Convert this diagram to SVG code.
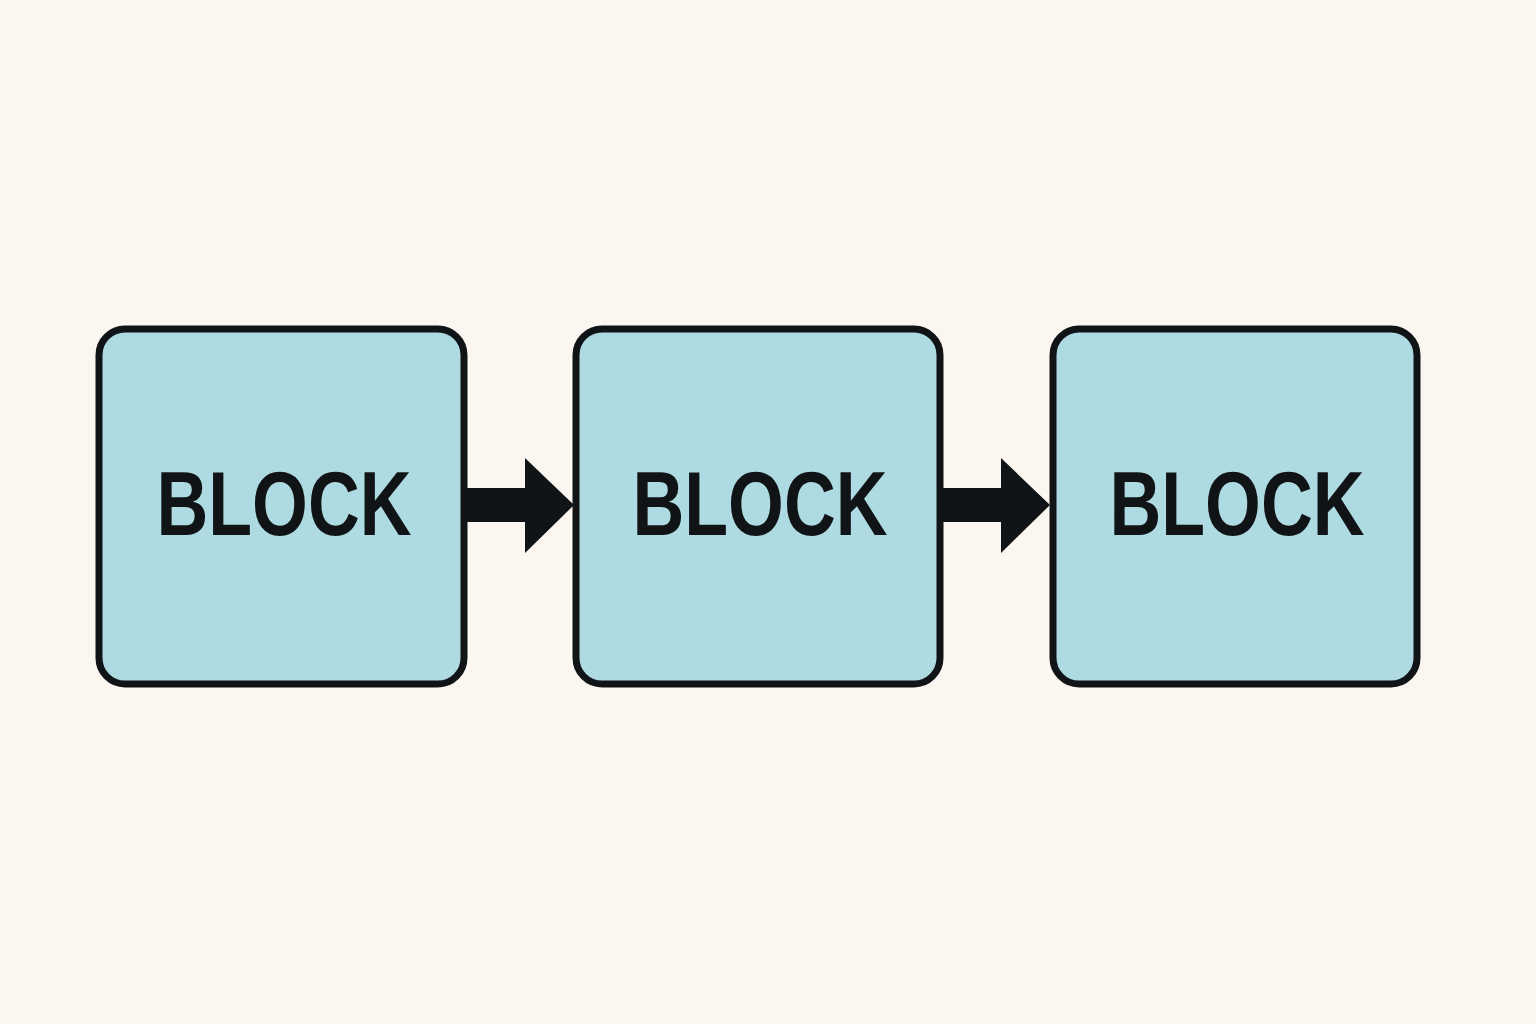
<svg xmlns="http://www.w3.org/2000/svg" width="1536" height="1024" viewBox="0 0 1536 1024">
<style>
.box{fill:#aedbe2;stroke:#111417;stroke-width:7}
.lbl{font-family:"Liberation Sans",Arial,sans-serif;font-weight:bold;font-size:90px;fill:#111417;text-anchor:middle}
.arr{fill:#111417}
</style>
<rect width="1536" height="1024" fill="#fcf6f0"/>
<g id="block1"><rect class="box" x="99" y="329" width="365" height="355" rx="26"/><text class="lbl" x="284" y="535" textLength="255" lengthAdjust="spacingAndGlyphs">BLOCK</text></g>
<g id="block2"><rect class="box" x="576" y="329" width="364" height="355" rx="26"/><text class="lbl" x="760" y="535" textLength="255" lengthAdjust="spacingAndGlyphs">BLOCK</text></g>
<g id="block3"><rect class="box" x="1053" y="329" width="364" height="355" rx="26"/><text class="lbl" x="1237" y="535" textLength="255" lengthAdjust="spacingAndGlyphs">BLOCK</text></g>
<g id="connectors">
<polygon class="arr" points="467,488 525,488 525,458 574,505 525,553 525,522 467,522"/>
<polygon class="arr" points="943,488 1001,488 1001,458 1050,505 1001,553 1001,522 943,522"/>
</g>
</svg>
